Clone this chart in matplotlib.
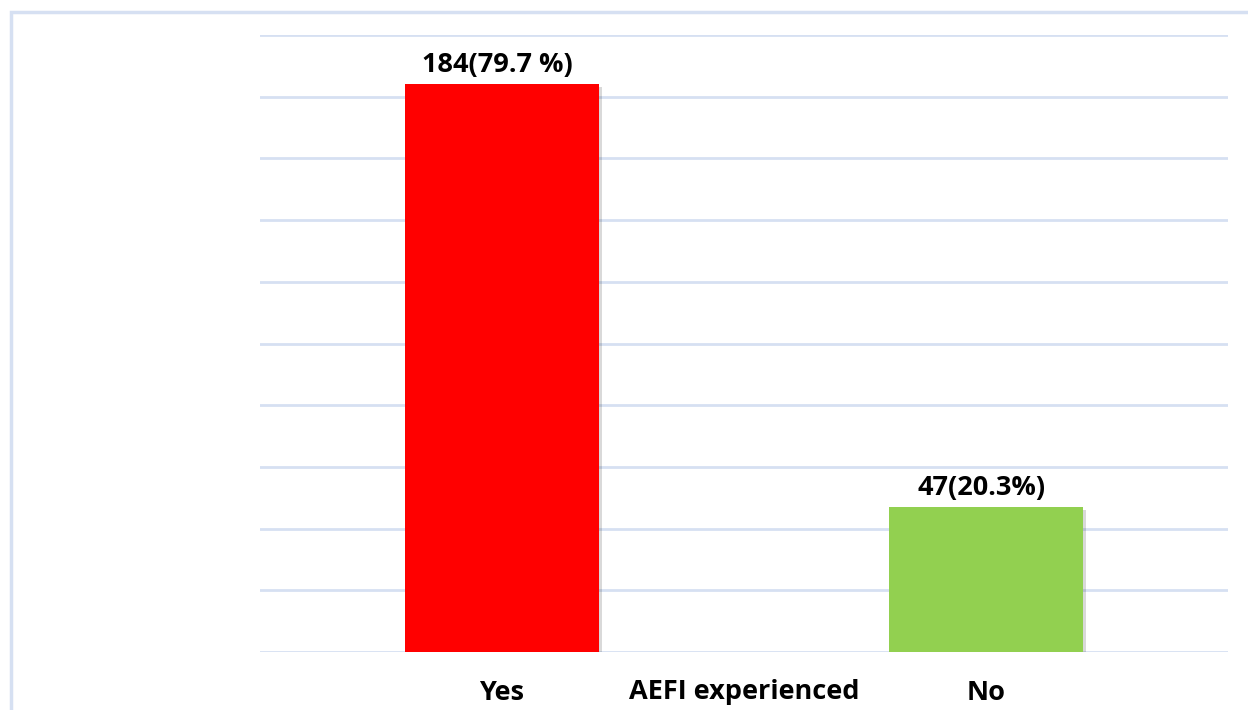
import matplotlib.pyplot as plt
import matplotlib.patheffects as pe
from matplotlib.patches import Rectangle

categories = ['Yes', 'No']
counts = [184, 47]
labels = ['184(79.7 %)', '47(20.3%)']
colors = ['#FF0000', '#92D050']
axis_title = 'AEFI experienced'

plt.rcParams['font.family'] = ['Open Sans', 'DejaVu Sans']

fig = plt.figure(figsize=(12.48, 7.10), dpi=100)
ax = fig.add_axes([260 / 1248, 58 / 710, 968 / 1248, 617 / 710])

x = range(len(categories))
bars = ax.bar(x, counts, width=0.4, color=colors, zorder=3)
for b in bars:
    b.set_path_effects([pe.SimplePatchShadow(offset=(2, -2), shadow_rgbFace='#000000', alpha=0.15), pe.Normal()])

for b, lab in zip(bars, labels):
    ax.text(b.get_x() + b.get_width() / 2 - 0.01, b.get_height() + 2.0, lab,
            ha='center', va='bottom', fontsize=19.5, fontweight='bold')

ax.set_xlim(-0.5, 1.5)
ax.set_ylim(0, 200)
ax.set_yticks(range(0, 201, 20))
ax.set_yticklabels([])
ax.tick_params(axis='y', length=0)
ax.grid(axis='y', color='#D6E0F2', linewidth=2, zorder=0)
ax.set_xticks(list(x))
ax.set_xticklabels(categories, fontsize=19.5, fontweight='bold')
ax.tick_params(axis='x', length=0, pad=20)
for s in ax.spines.values():
    s.set_visible(False)

ax.text(0.5, -0.043, axis_title, transform=ax.transAxes, ha='center', va='top',
        fontsize=19.5, fontweight='bold')

# outer chart border (runs off the right/bottom edges)
fig.patches.append(Rectangle((11 / 1248, -0.1), 1.2, (710 - 12) / 710 + 0.1,
                             transform=fig.transFigure, fill=False,
                             edgecolor='#D6E0F2', linewidth=2.5))

fig.savefig('out.png', dpi=100)
